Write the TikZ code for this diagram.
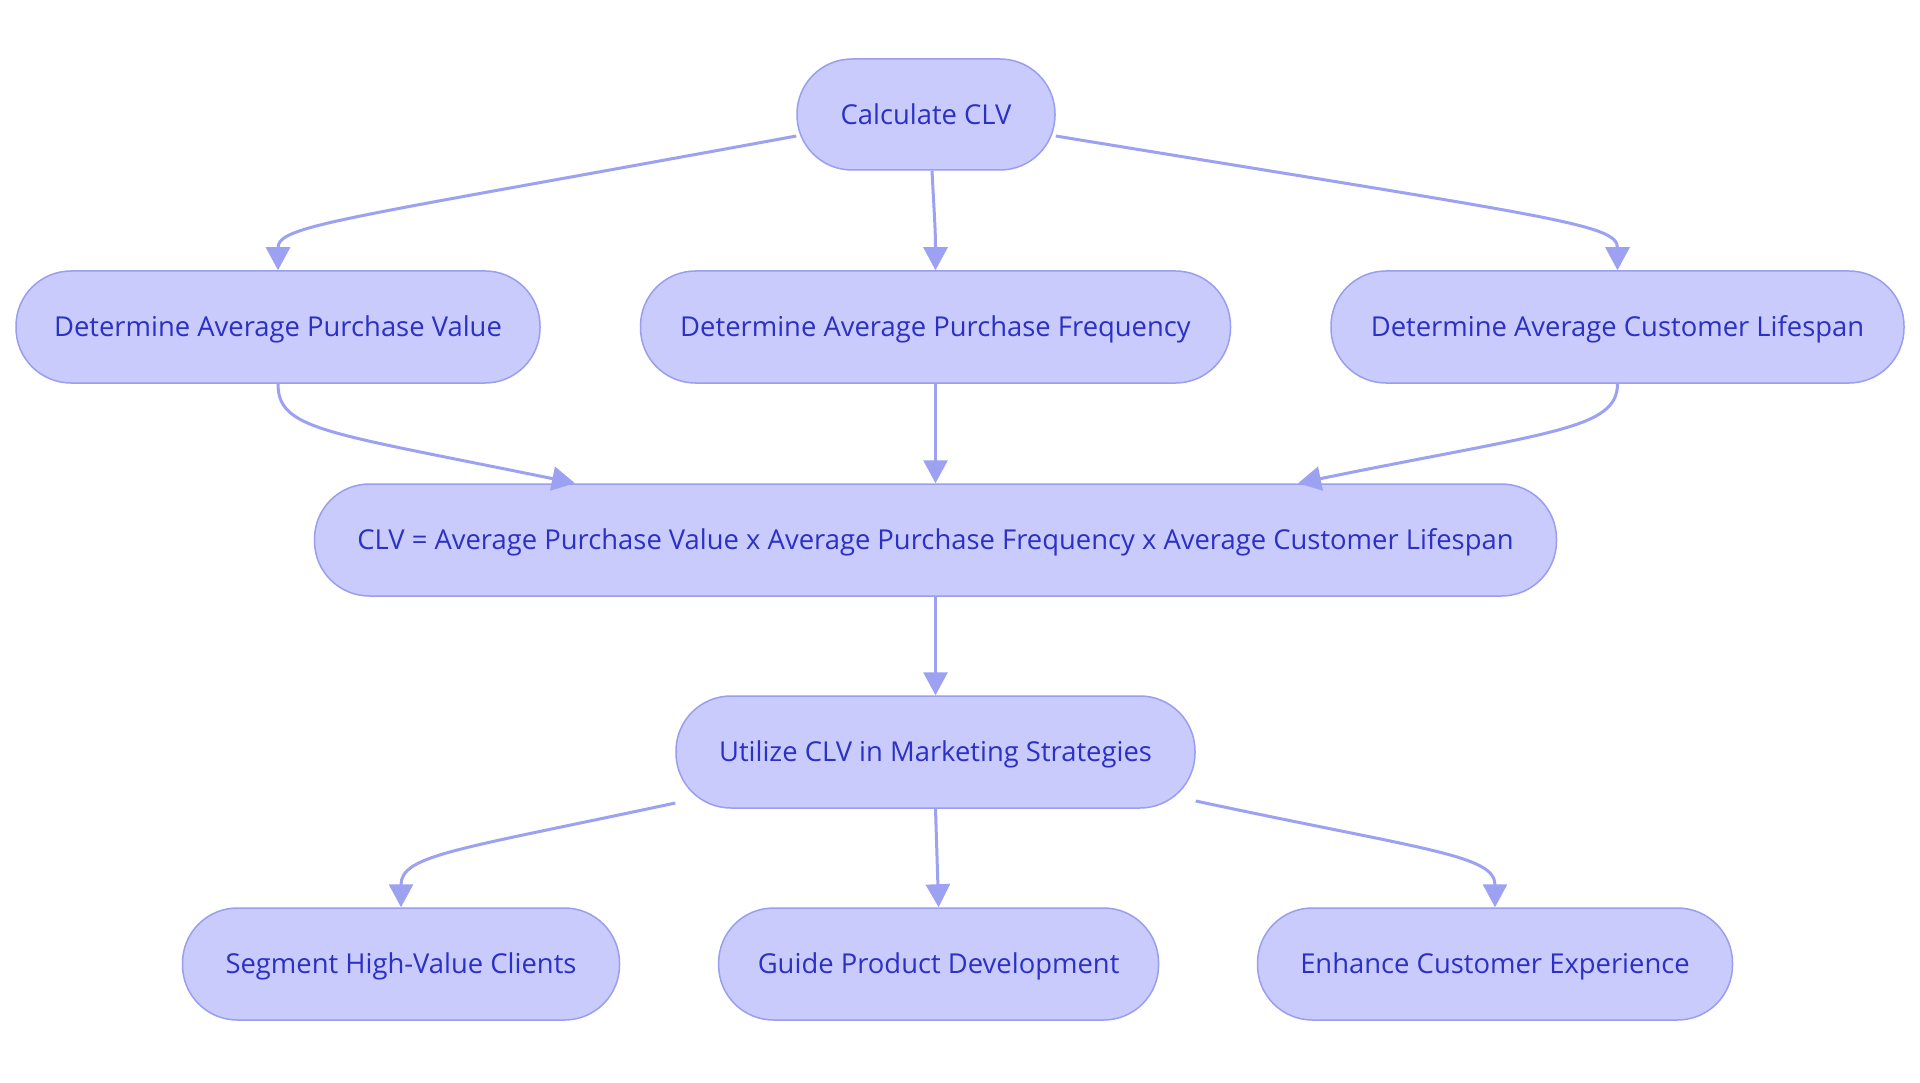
\documentclass[tikz,border=0pt]{standalone}
\usepackage{fontspec}
\setmainfont{Open Sans}
\usetikzlibrary{arrows.meta,calc}
\definecolor{nfill}{HTML}{C9CBFC}
\definecolor{nborder}{HTML}{9A9EEE}
\definecolor{narrow}{HTML}{9DA1F2}
\definecolor{ntext}{HTML}{2C30C4}
\begin{document}
\begin{tikzpicture}[x=1pt,y=-1pt,
  box/.style={draw=nborder, fill=nfill, line width=1.5pt, rounded corners=55pt,
    minimum height=112pt, inner sep=0pt, text=ntext, text height=19.6pt, text depth=0pt,
    font=\fontsize{27.4}{32}\selectfont},
  arr/.style={draw=narrow, line width=3pt, -{Triangle[length=23pt,width=24pt]}}]
\useasboundingbox[fill=white] (0,0) rectangle (1920,1083);
\node[box, minimum width=258pt, minimum height=111pt] (calc) at (926,114.5) {Calculate CLV};
\node[box, minimum width=524pt] (apv) at (278,327) {Determine Average Purchase Value};
\node[box, minimum width=590pt] (apf) at (935.5,327) {Determine Average Purchase Frequency};
\node[box, minimum width=573pt] (acl) at (1617.5,327) {Determine Average Customer Lifespan};
\node[box, minimum width=1242pt] (form) at (935.5,540) {CLV = Average Purchase Value x Average Purchase Frequency x Average Customer Lifespan};
\node[box, minimum width=519pt] (util) at (935.5,752) {Utilize CLV in Marketing Strategies};
\node[box, minimum width=437pt] (seg) at (401,964) {Segment High-Value Clients};
\node[box, minimum width=440pt] (guide) at (938.6,964) {Guide Product Development};
\node[box, minimum width=475pt] (enh) at (1495,964) {Enhance Customer Experience};

\draw[arr] ($(calc.west)+(0,21.5)$) .. controls (340,220) and (278,225) .. (apv.north);
\draw[arr] ($(calc.south)+(6,0)$) .. controls (934,210) and (935.5,230) .. (apf.north);
\draw[arr] ($(calc.east)+(0,21.5)$) .. controls (1556,218) and (1617.5,224) .. (acl.north);
\draw[arr] (apv.south) .. controls (278,430) and (325,432) .. ($(form.north)+(-360.5,0)$);
\draw[arr] (apf.south) -- (form.north);
\draw[arr] (acl.south) .. controls (1617.5,430) and (1548,432) .. ($(form.north)+(362.5,0)$);
\draw[arr] (form.south) -- (util.north);
\draw[arr] ($(util.west)+(0,51)$) .. controls (456,850) and (401,855) .. (seg.north);
\draw[arr] (util.south) -- (guide.north);
\draw[arr] ($(util.east)+(0,49)$) .. controls (1425,850) and (1495,855) .. (enh.north);
\end{tikzpicture}
\end{document}
